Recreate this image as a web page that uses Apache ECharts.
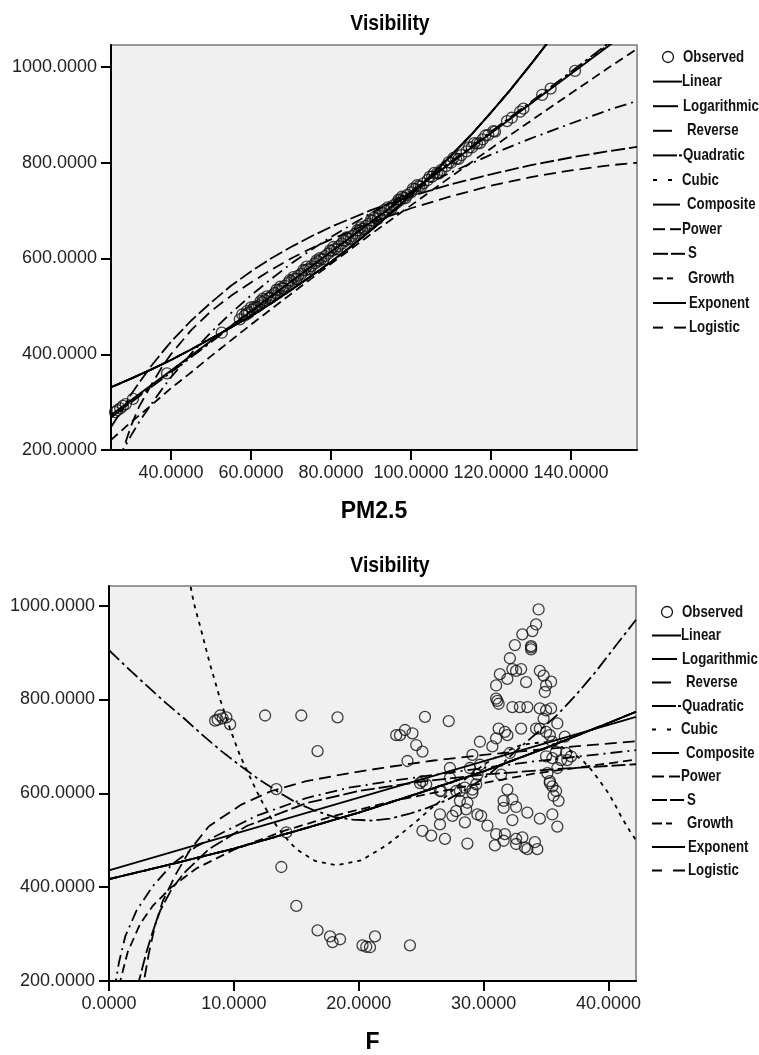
<!DOCTYPE html>
<html><head><meta charset="utf-8">
<script src="https://cdn.jsdelivr.net/npm/echarts@6/dist/echarts.min.js"></script>
<style>html,body{margin:0;padding:0;background:#fff}#c{width:759px;height:1055px}</style>
</head><body><div id="c"></div>
<script>
// ---------- DATA: top chart (PM2.5 vs Visibility) ----------
const topTicksX = [40, 60, 80, 100, 120, 140];
const topTicksY = [200, 400, 600, 800, 1000];
const obs1X = [26.0,26.6,27.3,28.0,28.7,30.5,39.0,52.7,57.2,58.4,59.5,60.3,61.1,62.0,62.8,63.5,64.4,65.2,66.0,66.9,67.7,68.5,69.3,70.1,71.0,71.8,72.6,73.5,74.3,75.1,76.0,76.8,77.6,78.5,79.3,80.2,81.0,81.9,82.7,83.6,84.4,85.3,86.1,87.0,87.8,88.7,89.5,90.4,91.2,92.1,93.0,93.8,94.7,95.6,96.4,97.3,98.2,99.1,100.0,101.0,102.0,103.1,104.2,105.3,106.5,107.6,108.8,110.0,111.3,112.6,113.9,115.2,116.5,117.9,119.3,120.6,124.0,125.2,127.3,128.1,132.8,134.9,141.0,
  59.0,60.8,62.4,64.0,67.3,70.6,73.9,77.2,80.6,83.9,87.4,90.8,94.2,97.7,101.5,105.8,110.6,115.8,
  57.8,58.9,60.0,61.5,63.0,64.8,66.4,68.0,69.7,71.4,73.1,74.7,76.4,78.1,79.8,81.5,83.2,84.9,86.6,88.3,90.0,91.7,93.4,95.1,96.9,98.6,100.5,102.5,104.7,107.0,109.4,111.9,114.5,117.2,118.6,121.0];
const obs1Y = [279,283,287,292,296,307,360,445,473,481,487,493,497,502,509,513,517,523,528,534,538,543,549,553,558,564,568,575,578,584,590,594,599,605,610,616,620,626,631,637,641,647,652,658,662,668,673,679,684,689,695,700,705,711,716,722,727,733,738,745,751,757,764,771,778,785,793,800,808,816,824,832,840,849,858,866,887,894,907,913,942,955,992,
  490,499,511,521,541,561,583,601,624,644,665,686,707,729,753,779,810,841,
  483,484,498,499,516,518,535,537,555,557,576,577,596,598,617,619,638,641,659,662,680,683,702,704,723,726,746,750,771,778,801,808,832,841,857,865];
const tLinX = [25, 156.5];
const tLinY = [273, 1088];
const tQuadX = [25, 60, 100, 140, 156.5];
const tQuadY = [268, 488, 740, 990, 1095];
const tCubX = [25, 60, 100, 140, 156.5];
const tCubY = [270, 491, 738, 987, 1092];
const tExpX = [25,30,35,40,45,50,55,60,65,70,75,80,85,90,95,100,105,110,115,120,125,130,135];
const tExpY = [331,349,368,388,410,433,456,480,506,534,563,593,625,659,695,733,773,815,858,905,954,1006,1060];
const tPowX = [25,30,35,40,45,50,55,60,70,80,90,100,110,120,130,140,150,156.5];
const tPowY = [221,258,293,329,362,396,429,462,526,589,651,711,771,830,888,945,1002,1038];
const tLogX = [27,28,30,32,35,38,40,45,50,55,60,65,70,75,80,90,100,110,120,130,140,150,156.5];
const tLogY = [180,200,230,258,295,330,352,401,446,486,523,557,589,618,645,695,740,780,817,851,882,912,929];
const tSX = [25,28,30,32,35,38,40,45,50,55,60,65,70,75,80,90,100,110,120,130,140,150,156.5];
const tSY = [248,286,316,340,375,406,426,470,508,543,573,600,624,646,666,701,730,755,776,795,811,825,833];
const tRevX = [27.2,28,30,32,35,38,40,45,50,55,60,65,70,75,80,90,100,110,120,130,140,150,156.5];
const tRevY = [180,200,250,290,335,377,400,450,490,522,550,576,600,621,640,675,705,730,752,770,784,795,800];

// ---------- DATA: bottom chart (F vs Visibility) ----------
const botTicksX = [0, 10, 20, 30, 40];
const botTicksY = [200, 400, 600, 800, 1000];
const obs2X = [8.5,8.7,8.9,9.1,9.4,9.7,12.5,15.4,18.3,16.7,13.4,14.2,13.8,15.0,16.7,17.7,17.9,18.5,20.3,20.6,20.9,21.3,24.1,23.0,
  34.4,34.2,33.9,33.1,33.8,33.8,33.8,32.5,32.1,31.3,31.0,32.3,32.6,33.0,31.9,33.4,34.5,34.8,35.4,35.0,34.9,31.0,31.2,31.1,32.3,32.9,33.5,34.5,35.0,35.4,34.8,35.9,34.5,35.0,35.3,35.5,36.5,
  25.3,27.2,23.3,23.7,24.3,24.6,25.1,23.9,29.7,29.1,31.2,31.7,31.9,33.0,31.0,30.7,32.1,34.2,35.8,36.6,37.0,35.0,35.5,36.2,36.7,
  28.9,29.7,29.5,27.3,27.8,28.5,29.1,31.4,31.9,35.1,35.9,35.3,35.5,35.8,25.1,26.6,27.3,
  24.9,25.4,26.5,28.1,29.4,29.1,28.1,28.7,27.8,28.6,27.5,26.5,26.5,25.1,25.8,26.9,28.7,28.5,29.5,29.8,30.3,31.0,31.7,30.9,31.6,31.6,31.6,32.3,32.6,32.3,33.5,34.5,32.6,33.1,32.6,33.3,33.5,34.1,34.3,35.5,35.9,35.3,35.6,36.0];
const obs2Y = [755,757,766,760,762,747,766,766,762,690,609,517,443,360,308,295,283,289,276,273,272,295,276,724,
  992,960,946,939,911,907,914,916,888,854,830,865,861,865,844,837,861,851,838,830,816,802,791,797,784,784,784,781,777,781,759,749,738,731,724,710,721,
  763,754,724,735,728,703,689,669,710,682,738,731,724,738,717,700,686,738,689,686,679,679,675,671,671,
  654,661,640,654,605,612,608,640,608,643,654,626,615,605,626,605,633,
  622,619,605,605,619,601,584,580,562,566,552,555,534,520,510,503,493,538,555,552,531,513,513,489,499,584,569,587,571,543,559,546,503,506,492,485,481,496,481,555,529,622,595,584];
const bLinX = [0, 42.2];
const bLinY = [436, 763];
const bExpX = [0,5,10,15,20,25,30,35,40,42.2];
const bExpY = [417,449,482,520,559,602,647,697,750,774];
const bQuadX = [0,1.5,3,4.5,6,7.5,9,10.5,12,13.5,15,16.5,18,19.5,21,22.5,24,25.5,27,28.5,30,31.5,33,34.5,36,37.5,39,40.5,42.2];
const bQuadY = [905,867,830,794,760,724,690,659,630,604,580,563,550,544,542,546,556,569,585,607,632,664,700,734,770,813,860,912,970];
const bCubX = [6.4,6.8,7.3,7.7,8.1,8.5,8.9,9.7,10.5,11.2,11.8,12.4,13,14,15,16.5,18.2,20.2,22.2,23.4,24.6,25.8,27,28.5,30,31.5,33,34,35,36,37,38,38.5,39.2,40,40.5,41,41.7,42.2];
const bCubY = [1059,1005,956,915,874,838,800,737,680,640,606,575,546,510,481,456,447,457,489,514,540,568,594,630,661,686,703,707,709,702,689,668,654,630,600,577,551,520,500];
const bLogX = [0.45,0.55,0.8,1.3,2.2,3.5,5.1,7,9,11.8,15.8,19.2,23,28,34,42.2];
const bLogY = [180,200,240,295,350,402,450,487,515,552,590,612,628,647,668,692];
const bRevX = [2.65,2.8,3.2,3.7,4.3,5.4,6.5,8,10.6,13,15.8,18.6,21.8,26,30,36,42.2];
const bRevY = [170,200,260,320,370,430,480,530,576,605,626,640,654,670,682,697,711];
const bSX = [2.3,2.4,3,3.5,4.1,5,6,8,11,15.8,20,25,30,36,42.2];
const bSY = [185,200,262,305,350,395,430,481,530,579,605,625,640,652,662];
const bPowX = [0.8,0.9,1.5,2.5,3.5,5,7,10,14,18,23,28,34,42.2];
const bPowY = [188,200,262,322,360,400,440,480,520,552,585,612,642,672];

const legendNames = ['Observed','Linear','Logarithmic','Reverse','Quadratic','Cubic','Composite','Power','S','Growth','Exponent','Logistic'];

// ---------- styling ----------
const FONT = '"Liberation Sans", Arial, sans-serif';
const dash = {
  Linear: 'solid', Logarithmic: [12,5,2,5], Reverse: [12,6], Quadratic: [14,4,3,4], Cubic: [4,5],
  Composite: 'solid', Power: [9,5], S: [14,4], Growth: [10,4,4,4], Exponent: 'solid', Logistic: [10,8]
};
const legendSegs = [null, [[0,29]], [[0,25]], [[0,19]], [[0,24],[26,29]], [[0,4],[15,19]], [[0,27]],
  [[0,12],[17,28]], [[0,15],[18,32]], [[0,10],[14,20]], [[0,33]], [[0,10],[21,33]]];
const legendTextOff = [30, 29, 30, 34, 30, 29, 34, 29, 35, 35, 36, 36];

function zip(xs, ys) { return xs.map((x, i) => [x, ys[i]]); }

function lineSeries(name, xs, ys, gi) {
  return {
    type: 'line', name: name, xAxisIndex: gi, yAxisIndex: gi, data: zip(xs, ys),
    smooth: false, showSymbol: false, symbol: 'none', clip: true, silent: true, z: 3,
    lineStyle: { color: '#000', width: 1.8, type: dash[name], join: 'round' }
  };
}
function scatterSeries(xs, ys, gi) {
  return {
    type: 'scatter', name: 'Observed', xAxisIndex: gi, yAxisIndex: gi, data: zip(xs, ys),
    symbol: 'circle', symbolSize: 11, z: 2, silent: true,
    itemStyle: { color: 'rgba(0,0,0,0)', borderColor: '#111', borderWidth: 1.3 }
  };
}
function xAxis(gi, min, max, ticks, name) {
  return {
    gridIndex: gi, type: 'value', min: min, max: max,
    name: name, nameLocation: 'middle', nameGap: 50,
    nameTextStyle: { fontFamily: FONT, fontWeight: 'bold', fontSize: 23, color: '#000' },
    axisLine: { onZero: false, lineStyle: { color: '#000', width: 2 } },
    axisTick: { customValues: ticks, length: 10, lineStyle: { color: '#000', width: 2 } },
    axisLabel: { customValues: ticks, formatter: v => v.toFixed(4), margin: 14, fontFamily: FONT, fontSize: 18, color: '#222' },
    splitLine: { show: false }
  };
}
function yAxis(gi, min, max, ticks) {
  return {
    gridIndex: gi, type: 'value', min: min, max: max,
    axisLine: { onZero: false, lineStyle: { color: '#000', width: 2 } },
    axisTick: { customValues: ticks, length: 10, lineStyle: { color: '#000', width: 2 } },
    axisLabel: { customValues: ticks, formatter: v => v.toFixed(4), margin: 14, fontFamily: FONT, fontSize: 18, color: '#222' },
    splitLine: { show: false }
  };
}
function legendEls(x0, y0, step) {
  const els = [];
  legendNames.forEach((name, i) => {
    const y = y0 + step * i;
    if (i === 0) {
      els.push({ type: 'circle', shape: { cx: x0 + 15, cy: y, r: 5.5 }, style: { fill: 'none', stroke: '#111', lineWidth: 1.3 } });
    } else {
      legendSegs[i].forEach(s => els.push({ type: 'line', shape: { x1: x0 + s[0], y1: y, x2: x0 + s[1], y2: y }, style: { stroke: '#000', lineWidth: 2 } }));
    }
    els.push({ type: 'text', x: x0 + legendTextOff[i], y: y, scaleX: 0.78,
      style: { text: name, font: 'bold 17px ' + FONT, fill: '#111', textAlign: 'left', textVerticalAlign: 'middle', align: 'left', verticalAlign: 'middle' } });
  });
  return els;
}
function titleEl(x, y) {
  return { type: 'text', x: x, y: y, scaleX: 0.88,
    style: { text: 'Visibility', font: 'bold 22px ' + FONT, fill: '#000', textAlign: 'center', textVerticalAlign: 'middle', align: 'center', verticalAlign: 'middle' } };
}

const fitNames = ['Linear','Logarithmic','Reverse','Quadratic','Cubic','Composite','Power','S','Growth','Exponent','Logistic'];
const topFits = {
  Linear: [tLinX, tLinY], Logarithmic: [tLogX, tLogY], Reverse: [tRevX, tRevY], Quadratic: [tQuadX, tQuadY],
  Cubic: [tCubX, tCubY], Composite: [tExpX, tExpY], Power: [tPowX, tPowY], S: [tSX, tSY],
  Growth: [tExpX, tExpY], Exponent: [tExpX, tExpY], Logistic: [tExpX, tExpY]
};
const botFits = {
  Linear: [bLinX, bLinY], Logarithmic: [bLogX, bLogY], Reverse: [bRevX, bRevY], Quadratic: [bQuadX, bQuadY],
  Cubic: [bCubX, bCubY], Composite: [bExpX, bExpY], Power: [bPowX, bPowY], S: [bSX, bSY],
  Growth: [bExpX, bExpY], Exponent: [bExpX, bExpY], Logistic: [bExpX, bExpY]
};

const series = [scatterSeries(obs1X, obs1Y, 0), scatterSeries(obs2X, obs2Y, 1)];
fitNames.forEach(n => series.push(lineSeries(n, topFits[n][0], topFits[n][1], 0)));
fitNames.forEach(n => series.push(lineSeries(n, botFits[n][0], botFits[n][1], 1)));

const chart = echarts.init(document.getElementById('c'), null, { renderer: 'canvas' });
chart.setOption({
  animation: false,
  backgroundColor: '#fff',
  grid: [
    { left: 111, top: 45, width: 526, height: 405, show: true, backgroundColor: '#f0f0f0', borderColor: '#7a7a7a', borderWidth: 1.5 },
    { left: 109, top: 586, width: 527, height: 399, show: true, backgroundColor: '#f0f0f0', borderColor: '#7a7a7a', borderWidth: 1.5 }
  ],
  xAxis: [xAxis(0, 25, 156.5, topTicksX, 'PM2.5'), xAxis(1, 0, 42.2, botTicksX, 'F')],
  yAxis: [yAxis(0, 200, 1046, topTicksY), yAxis(1, 200, 1042, botTicksY)],
  series: series,
  graphic: { elements: [titleEl(390, 24), titleEl(390, 566)].concat(legendEls(653, 57, 24.6)).concat(legendEls(652, 612, 23.5)) }
});
</script>
</body></html>
